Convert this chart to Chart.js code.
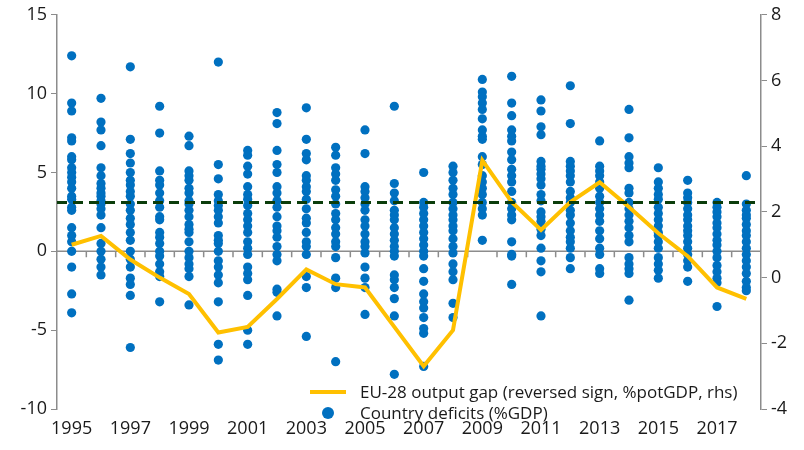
<!DOCTYPE html>
<html>
<head>
<meta charset="utf-8">
<script src="https://cdn.jsdelivr.net/npm/chart.js@4.4.1/dist/chart.umd.min.js"></script>
<style>
  body { margin: 0; background: #fff; }
  #wrap { position: relative; width: 804px; height: 450px; }
  #legend { position: absolute; left: 310px; top: 381px; font: 17px 'Open Sans', sans-serif; color: #1a1a1a; line-height: 21px; }
  #legend div { display: flex; align-items: center; }
  .ln { width: 36px; height: 4px; background: #FFC000; margin-right: 14px; }
  .dt { width: 12px; height: 12px; border-radius: 50%; background: #0070C0; margin: 0 26px 0 12px; }
</style>
</head>
<body>
<div id="wrap">
  <canvas id="chart" width="804" height="450"></canvas>
  <div id="legend">
    <div><span class="ln"></span>EU-28 output gap (reversed sign, %potGDP, rhs)</div>
    <div><span class="dt"></span>Country deficits (%GDP)</div>
  </div>
</div>
<script>
const years = ['1995','1996','1997','1998','1999','2000','2001','2002','2003','2004','2005','2006',
  '2007','2008','2009','2010','2011','2012','2013','2014','2015','2016','2017','2018']

// EU-28 output gap, reversed sign (rhs)
const outputGap = [1.0, 1.27, 0.55, 0, -0.5, -1.67, -1.5, -0.65, 0.25, -0.2, -0.3, -1.5,
  -2.7, -1.6, 3.57, 2.3, 1.45, 2.3, 2.9, 2.15, 1.35, 0.65, -0.3, -0.65]

const refLevel = 3.1

// country deficits per year (%GDP)
const deficits = [
  [12.4, 9.4, 8.9, 7.2, 7, 6, 5.8, 5.3, 5, 4.7, 4.4, 4, 3.5, 3.3, 2.8, 2.6, 1.5, 1, 0.6, 0, -1, -2.7, -3.9],
  [9.7, 8.2, 7.7, 6.7, 5.3, 4.8, 4.3, 4, 3.7, 3.5, 3.2, 3, 2.7, 2.3, 1.5, 0.5, 0, -0.5, -1, -1.5],
  [11.7, 7.1, 6.2, 5.6, 5, 4.5, 4.2, 3.8, 3.5, 3, 2.6, 2.1, 1.7, 1.2, 0.7, 0, -0.5, -1, -1.7, -2.1, -2.8, -6.1],
  [9.2, 7.5, 5.1, 4.5, 4.2, 3.7, 3.2, 2.8, 2.2, 2, 1.2, 0.9, 0.5, 0, -0.3, -0.8, -1.3, -1.6, -3.2],
  [7.3, 6.7, 5.1, 4.8, 4.5, 4, 3.7, 3.2, 3, 2.6, 2.2, 1.7, 1.4, 1.2, 0.6, 0, -0.4, -0.8, -1.1, -1.6, -3.4],
  [12, 5.5, 4.6, 3.6, 3.2, 2.9, 2.6, 2.2, 1.8, 1, 0.7, 0.5, 0, -0.6, -1, -1.5, -2, -3.2, -5.9, -6.9],
  [6.4, 6.1, 5.4, 4.9, 4.1, 3.6, 3.3, 2.9, 2.4, 2, 1.6, 1.2, 0.6, 0.2, -0.2, -1, -1.4, -1.8, -2.8, -5, -5.9],
  [8.8, 8.1, 6.4, 5.5, 5, 4.1, 3.7, 3.2, 2.8, 2.2, 1.6, 1.3, 0.9, 0.3, -0.2, -0.6, -2.4, -2.6, -4.1],
  [9.1, 7.1, 6.2, 5.8, 4.8, 4.5, 4.1, 3.8, 3.3, 2.7, 2.1, 1.8, 1.2, 0.6, 0.3, -0.2, -1.6, -2.3, -5.4],
  [6.6, 6.1, 5.3, 4.9, 4.5, 3.9, 3.5, 3, 2.4, 2, 1.5, 1.1, 0.6, 0.3, -0.4, -1.7, -2.3, -7],
  [7.7, 6.2, 4.1, 3.8, 3.4, 3, 2.6, 2, 1.6, 1.1, 0.6, 0.3, -0.1, -1, -1.7, -2.3, -4],
  [9.2, 4.3, 3.7, 3.2, 2.6, 2.3, 2, 1.5, 1.1, 0.7, 0.3, 0, -0.3, -1.5, -1.8, -2.3, -3, -4.1, -7.8],
  [5, 3.1, 2.8, 2.4, 2, 1.6, 1.2, 0.8, 0.4, 0, -0.3, -1.1, -1.9, -2.7, -3.2, -3.6, -4.2, -4.9, -5.2, -7.3],
  [5.4, 5, 4.5, 4, 3.6, 3.1, 2.7, 2.3, 2, 1.6, 1.3, 0.8, 0.3, -0.1, -0.8, -1.3, -1.8, -3.3, -4.2],
  [10.9, 10.1, 9.8, 9.4, 9, 8.4, 7.7, 7.3, 7.1, 6, 5.5, 4.8, 4.4, 4, 3.6, 3.1, 2.7, 2.3, 0.7],
  [11.1, 9.4, 8.6, 7.7, 7.3, 7, 6.3, 5.8, 5.2, 4.8, 4.4, 3.8, 3.1, 2.7, 2.3, 2, 0.6, -0.2, -0.3, -2.1],
  [9.6, 8.9, 7.9, 7.4, 5.7, 5.4, 5.2, 4.9, 4.6, 4.2, 3.6, 3.2, 2.5, 2.2, 1.9, 1.4, 1, 0.2, -0.6, -1.3, -4.1],
  [10.5, 8.1, 5.7, 5.4, 5.1, 4.8, 4.4, 3.8, 3.4, 3.1, 2.6, 2.3, 1.8, 1.3, 0.9, 0.6, 0.2, -0.4, -1.1],
  [7, 5.4, 5.1, 4.8, 4.4, 4, 3.5, 3.1, 2.7, 2.3, 1.9, 1.3, 0.8, 0.2, -0.2, -1.1, -1.4],
  [9, 7.2, 6, 5.6, 5.3, 4, 3.7, 3.1, 2.7, 2.3, 1.9, 1.5, 1, 0.6, -0.4, -0.8, -1.1, -1.4, -3.1],
  [5.3, 4.4, 4, 3.6, 3.3, 2.8, 2.4, 2, 1.6, 1.2, 1, 0.6, 0.2, -0.4, -0.8, -1.2, -1.7],
  [4.5, 3.7, 3.4, 3.1, 2.7, 2.3, 2, 1.6, 1.3, 1, 0.6, 0.2, -0.2, -0.6, -1, -1.9],
  [3.1, 2.8, 2.5, 2.2, 1.8, 1.5, 1.1, 0.7, 0.4, 0, -0.4, -0.9, -1.3, -1.7, -2, -3.5],
  [4.8, 3, 2.6, 2.3, 2.1, 1.7, 1.3, 1, 0.6, 0.2, -0.2, -0.6, -1, -1.4, -1.9, -2.3, -2.5]
]

const leftTicks = [-10, -5, 0, 5, 10, 15]
const rightTicks = [-4, -2, 0, 2, 4, 6, 8]

const points = []
deficits.forEach((vals, i) => vals.forEach((v) => points.push({ x: years[i], y: v })))

const axisGray = '#8c8c8c'
const tickFont = { size: 18, family: 'Open Sans' }

// dashed reference line and zero line with tick marks
const extras = {
  id: 'extras',
  beforeDatasetsDraw(chart) {
    const { ctx, chartArea, scales } = chart
    const y0 = scales.y.getPixelForValue(0)
    ctx.save()
    ctx.strokeStyle = axisGray
    ctx.lineWidth = 1.5
    ctx.beginPath()
    ctx.moveTo(chartArea.left, y0)
    ctx.lineTo(chartArea.right, y0)
    const step = (chartArea.right - chartArea.left) / years.length
    for (let i = 1; i < years.length; i++) {
      const x = chartArea.left + step * i
      ctx.moveTo(x, y0)
      ctx.lineTo(x, y0 + 6)
    }
    ctx.stroke()
    ctx.restore()
  },
  afterDatasetsDraw(chart) {
    const { ctx, chartArea, scales } = chart
    const yr = scales.y.getPixelForValue(refLevel)
    ctx.save()
    ctx.strokeStyle = '#0b3d0b'
    ctx.lineWidth = 3
    ctx.setLineDash([10, 6])
    ctx.beginPath()
    ctx.moveTo(chartArea.left, yr)
    ctx.lineTo(chartArea.right, yr)
    ctx.stroke()
    ctx.restore()
  }
}

new Chart(document.getElementById('chart'), {
  type: 'line',
  data: {
    labels: years,
    datasets: [
      {
        label: 'EU-28 output gap (reversed sign, %potGDP, rhs)',
        data: outputGap,
        yAxisID: 'y2',
        borderColor: '#FFC000',
        borderWidth: 4,
        pointRadius: 0,
        tension: 0,
        order: 0
      },
      {
        label: 'Country deficits (%GDP)',
        data: points,
        yAxisID: 'y',
        showLine: false,
        pointRadius: 4.6,
        pointBackgroundColor: '#0070C0',
        pointBorderWidth: 0,
        order: 1
      }
    ]
  },
  options: {
    responsive: false,
    animation: false,
    layout: { padding: { top: 12, right: 0, left: 0, bottom: 0 } },
    plugins: { legend: { display: false }, tooltip: { enabled: false } },
    scales: {
      x: {
        offset: true,
        grid: { display: false },
        border: { display: false },
        ticks: {
          autoSkip: false,
          maxRotation: 0,
          color: '#1a1a1a',
          font: tickFont,
          padding: 1,
          callback: function (v, i) { return i % 2 === 0 ? years[i] : '' }
        },
        afterFit(s) { s.height = 41 }
      },
      y: {
        min: -10, max: 15,
        afterBuildTicks(s) { s.ticks = leftTicks.map((v) => ({ value: v })) },
        grid: { drawOnChartArea: false, tickLength: 6, color: axisGray },
        border: { color: axisGray, width: 1.5 },
        ticks: { color: '#1a1a1a', font: tickFont, padding: 4 },
        afterFit(s) { s.width = 57 }
      },
      y2: {
        position: 'right',
        min: -4, max: 8,
        afterBuildTicks(s) { s.ticks = rightTicks.map((v) => ({ value: v })) },
        grid: { drawOnChartArea: false, tickLength: 6, color: axisGray },
        border: { color: axisGray, width: 1.5 },
        ticks: { color: '#1a1a1a', font: tickFont, padding: 4 },
        afterFit(s) { s.width = 43 }
      }
    }
  },
  plugins: [extras]
})
</script>
</body>
</html>
